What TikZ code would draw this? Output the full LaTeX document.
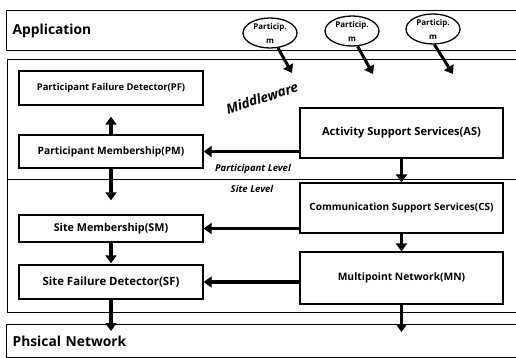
\documentclass[tikz,border=0pt]{standalone}
\usepackage{fontspec}
\setmainfont{Open Sans}
\usetikzlibrary{
    arrows.meta,        % Triangle tips
    shapes.geometric    % ellipse
}
\newcommand\fsz[1]{\bfseries\fontsize{#1}{1.2\dimexpr#1pt\relax}\selectfont}

\begin{document}
\begin{tikzpicture}[
      x=1pt, y=-1pt,
      font=\bfseries,
      >={Triangle[length=8pt,width=11pt]},
      layer/.style={draw, line width=1.3pt, anchor=north west, align=left, inner sep=6pt,
                    text width=500pt, font=\fsz{13.8}},
      box/.style ={draw, line width=1.3pt, minimum width=184pt, align=center},
      svc/.style ={draw, line width=1.3pt, minimum width=203pt, align=center},
      part/.style={ellipse, draw, line width=1.3pt, minimum width=54pt, minimum height=30pt,
                   inner xsep=-6pt, inner ysep=-5pt, align=center,
                   font=\bfseries\fontsize{8}{14}\selectfont},
      lvl/.style ={font=\bfseries\itshape\fontsize{9.5}{11}\selectfont},
      arr/.style ={->, line width=3.6pt}
    ]
    \useasboundingbox (0,0) rectangle (516,358);

    % --- Application layer with the participants ---
    \node[layer, minimum height=40pt] (app) at (6,10) {Application};
    \node[part] (p1) at (270,33) {Particip.\\m};
    \node[part] (p2) at (352,31) {Particip.\\m};
    \node[part] (p3) at (433,29) {Particip.\\m};
    \coordinate (t1) at (292,73);
    \coordinate (t2) at (373,74);
    \coordinate (t3) at (453,74);

    % --- Middleware layer ---
    \node[draw, line width=1.3pt, anchor=north west, minimum width=518pt, minimum height=253pt,
          inner sep=0pt] (mid) at (7,59) {};
    \node[font=\bfseries\itshape\fontsize{13.5}{15}\selectfont, rotate=18] (mw) at (262,98) {Middleware};
    \coordinate (split) at (0,179);
    \draw[line width=1pt] (mid.west |- split) -- (mid.east |- split);
    \node[lvl] (plevel) at (253,169) {Participant Level};
    \node[lvl] (slevel) at (252,189) {Site Level};

    % --- Membership / failure detectors (left column) ---
    \node[box, minimum height=34pt, font=\fsz{9.4}]  (pf) at (111,88)    {Participant Failure Detector(PF)};
    \node[box, minimum height=33pt, font=\fsz{10.2}] (pm) at (111,151.5) {Participant Membership(PM)};
    \node[box, minimum height=27pt, font=\fsz{10.8}] (sm) at (111,228.5) {Site Membership(SM)};
    \node[box, minimum height=34pt, font=\fsz{11.4}] (sf) at (111,282)   {Site Failure Detector(SF)};

    % --- Services (right column) ---
    \node[svc, minimum height=50pt, font=\fsz{11.1}] (as) at (401.5,133) {Activity Support Services(AS)};
    \node[svc, minimum height=50pt, font=\fsz{10}]   (cs) at (401.5,208) {Communication Support Services(CS)};
    \node[svc, minimum height=52pt, font=\fsz{10.3}] (mn) at (401.5,278) {Multipoint Network(MN)};

    % --- Physical layer ---
    \node[layer, minimum height=33pt] (phy) at (6,324) {Phsical Network};

    % ================= arrows =================
    \draw[arr, line width=3pt] (p1.-62) -- (t1);
    \draw[arr, line width=3pt] (p2.-70) -- (t2);
    \draw[arr, line width=3pt] (p3.-85) -- (t3);

    \draw[arr, shorten >=11pt] (pm.north) -- (pf.south);
    \draw[arr, shorten >=14pt] (pm.south) -- (sm.north);
    \draw[arr, shorten >=1pt]  (sm.south) -- (sf.north);
    \draw[arr] (sf.south) -- ([yshift=-7pt]sf.south |- phy.north);

    \draw[arr] (as.south) -- (cs.north);
    \draw[arr] (cs.south) -- (mn.north);
    \draw[arr] (mn.south) -- ([yshift=-8pt]mn.south |- phy.north);

    \draw[arr] (as.west |- pm.east) -- (pm.east);
    \draw[arr] (cs.west |- sm.east) -- (sm.east);
    \draw[arr] (mn.west |- sf.east) -- (sf.east);

\end{tikzpicture}
\end{document}
